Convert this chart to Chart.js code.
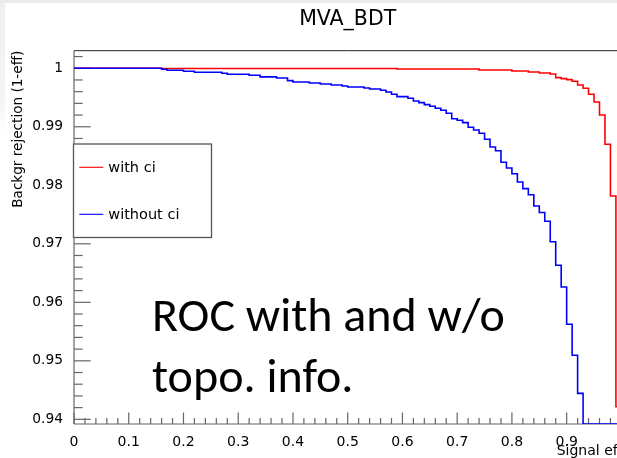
<!DOCTYPE html>
<html>
<head>
<meta charset="utf-8">
<script src="https://cdn.jsdelivr.net/npm/chart.js@4.4.1/dist/chart.umd.min.js"></script>
<style>
  html, body { margin: 0; padding: 0; background: #fff; overflow: hidden; width: 617px; height: 458px; }
  #wrap { position: relative; width: 617px; height: 458px; overflow: hidden; background: #fff; }
  #roc { position: absolute; left: 0; top: 0; }
  .band-top { position: absolute; left: 0; top: 0; width: 617px; height: 3px; background: #ebebeb; }
  .band-left { position: absolute; left: 0; top: 3px; width: 5px; height: 132px;
               background: linear-gradient(#efefef, #f5f5f5 75%, #ffffff); }
  #note { position: absolute; left: 152px; top: 285px; color: #000; white-space: nowrap;
          font-family: Carlito, Lato, "Open Sans", sans-serif; font-size: 48px; line-height: 60.7px; }
</style>
</head>
<body>
<div id="wrap">
  <canvas id="roc" width="680" height="458"></canvas>
  <div class="band-top"></div>
  <div class="band-left"></div>
  <div id="note">ROC with and w/o<br>topo. info.</div>
</div>
<script>
// Signal efficiency at which each step of the ROC histogram starts, and the
// background rejection (1-eff) on that step. The last step runs to eff = 1.
const effWithCi = [0, 0.16, 0.59, 0.74, 0.80, 0.83, 0.85, 0.87, 0.88, 0.89, 0.90,
                   0.91, 0.92, 0.93, 0.94, 0.95, 0.96, 0.97, 0.98, 0.99];
const rejWithCi = [1.0, 0.99995, 0.99988, 0.99971, 0.99954, 0.99937, 0.99920, 0.99903,
                   0.99840, 0.99823, 0.99805, 0.99778, 0.99715, 0.99658, 0.99556,
                   0.99424, 0.99202, 0.98701, 0.97817, 0.94214];

const effWithoutCi = [0, 0.16, 0.17, 0.20, 0.22, 0.27, 0.28, 0.32, 0.34, 0.37, 0.39,
                      0.40, 0.43, 0.45, 0.47, 0.49, 0.50, 0.53, 0.54, 0.56, 0.57,
                      0.58, 0.59, 0.61, 0.62, 0.63, 0.64, 0.65, 0.66, 0.67, 0.68,
                      0.69, 0.70, 0.71, 0.72, 0.73, 0.74, 0.75, 0.76, 0.77, 0.78,
                      0.79, 0.80, 0.81, 0.82, 0.83, 0.84, 0.85, 0.86, 0.87, 0.88,
                      0.89, 0.90, 0.91, 0.92, 0.93];
const rejWithoutCi = [1.0, 0.99982, 0.99965, 0.99948, 0.99931, 0.99914, 0.99897, 0.99880,
                      0.99852, 0.99834, 0.99789, 0.99766, 0.99749, 0.99731, 0.99714,
                      0.99697, 0.99680, 0.99663, 0.99646, 0.99624, 0.99595, 0.99556,
                      0.99515, 0.99487, 0.99441, 0.99412, 0.99378, 0.99350, 0.99316,
                      0.99282, 0.99231, 0.99138, 0.99111, 0.99070, 0.98991, 0.98945,
                      0.98889, 0.98786, 0.98655, 0.98591, 0.98393, 0.98296, 0.98198,
                      0.98056, 0.97942, 0.97839, 0.97646, 0.97535, 0.97385, 0.97036,
                      0.96632, 0.96262, 0.95624, 0.95094, 0.94444, 0.9392];

const seriesNames = ['with ci', 'without ci'];

const xTickValues = [0, 0.1, 0.2, 0.3, 0.4, 0.5, 0.6, 0.7, 0.8, 0.9, 1.0];
const xTickLabels = ['0', '0.1', '0.2', '0.3', '0.4', '0.5', '0.6', '0.7', '0.8', '0.9', '1'];
const yTickValues = [0.94, 0.95, 0.96, 0.97, 0.98, 0.99, 1.0];
const yTickLabels = ['0.94', '0.95', '0.96', '0.97', '0.98', '0.99', '1'];

const X_MIN = 0, X_MAX = 1;
const Y_MIN = 0.9392, Y_MAX = 1.003;
const FONT = "'DejaVu Sans', sans-serif";

// histogram steps -> points for a 'before' stepped line
function stepPoints(edges, values, xEnd) {
  const pts = edges.map((e, i) => ({ x: e, y: values[i] }));
  pts.push({ x: xEnd, y: values[values.length - 1] });
  return pts;
}

// ROOT-style frame: axis lines, inward major/minor ticks, legend box, x title
const rootFrame = {
  id: 'rootFrame',
  beforeDatasetsDraw(chart) {
    const { ctx, chartArea: a, scales: { x, y } } = chart;
    const seg = (x1, y1, x2, y2) => { ctx.beginPath(); ctx.moveTo(x1, y1); ctx.lineTo(x2, y2); ctx.stroke(); };
    ctx.save();
    ctx.strokeStyle = '#222';
    ctx.lineWidth = 1;
    seg(a.left, a.top, a.right, a.top);

    ctx.strokeStyle = '#666';
    ctx.lineWidth = 1.2;
    seg(a.left, a.top, a.left, a.bottom);
    seg(a.left, a.bottom, a.right, a.bottom);

    // y ticks every 0.002, majors every 0.01
    for (let k = Math.ceil(Y_MIN / 0.002 - 1e-6); k <= Math.floor(Y_MAX / 0.002 + 1e-6); k++) {
      const py = y.getPixelForValue(k * 0.002);
      const len = (k % 5 === 0) ? 16.7 : 8.7;
      seg(a.left, py, a.left + len, py);
    }
    // x ticks every 0.02, majors every 0.1
    for (let k = 0; k <= 50; k++) {
      const px = x.getPixelForValue(k * 0.02);
      const len = (k % 5 === 0) ? 11.5 : 6;
      seg(px, a.bottom, px, a.bottom - len);
    }
    ctx.restore();
  },
  afterDatasetsDraw(chart) {
    const { ctx, chartArea: a } = chart;
    ctx.save();
    // legend box
    const bx = 73.5, by = 144, bw = 138, bh = 93.5;
    ctx.fillStyle = '#fff';
    ctx.fillRect(bx, by, bw, bh);
    ctx.strokeStyle = '#555';
    ctx.lineWidth = 1.3;
    ctx.strokeRect(bx, by, bw, bh);
    const rowY = [167.3, 214.3];
    ctx.font = '14.5px ' + FONT;
    ctx.textBaseline = 'middle';
    ctx.textAlign = 'left';
    chart.data.datasets.forEach((ds, i) => {
      ctx.strokeStyle = ds.borderColor;
      ctx.lineWidth = 1.1;
      ctx.beginPath();
      ctx.moveTo(79.3, rowY[i]);
      ctx.lineTo(103.3, rowY[i]);
      ctx.stroke();
      ctx.fillStyle = '#000';
      ctx.fillText(ds.label, 108.3, rowY[i] + 0.5);
    });
    // x axis title
    ctx.font = '14px ' + FONT;
    ctx.textBaseline = 'alphabetic';
    ctx.fillStyle = '#000';
    ctx.fillText('Signal efficiency', 556.7, 455);
    ctx.restore();
  }
};

new Chart(document.getElementById('roc'), {
  type: 'line',
  data: {
    datasets: [
      {
        label: seriesNames[0],
        data: stepPoints(effWithCi, rejWithCi, X_MAX),
        borderColor: '#ff0000',
        borderWidth: 1.6,
        stepped: 'before',
        pointRadius: 0,
        fill: false,
        order: 1
      },
      {
        label: seriesNames[1],
        data: stepPoints(effWithoutCi, rejWithoutCi, X_MAX),
        borderColor: '#0000ff',
        borderWidth: 1.6,
        stepped: 'before',
        pointRadius: 0,
        fill: false,
        order: 0
      }
    ]
  },
  options: {
    responsive: false,
    animation: false,
    events: [],
    layout: { padding: { top: 0, left: 0, right: 58.6, bottom: 0 } },
    plugins: {
      legend: { display: false },
      tooltip: { enabled: false },
      title: {
        display: true,
        text: 'MVA_BDT',
        fullSize: false,
        color: '#000',
        font: { family: FONT, size: 20.5, weight: 'normal', lineHeight: 1.2 },
        padding: { top: 7.3, bottom: 18.8 }
      }
    },
    scales: {
      x: {
        type: 'linear',
        position: 'bottom',
        min: X_MIN,
        max: X_MAX,
        afterBuildTicks: s => { s.ticks = xTickValues.map(v => ({ value: v })); },
        afterFit: s => { s.height = 34; },
        grid: { display: false },
        border: { display: false },
        ticks: {
          color: '#000',
          padding: 2,
          maxRotation: 0,
          autoSkip: false,
          font: { family: FONT, size: 14 },
          callback: (v, i) => xTickLabels[i]
        }
      },
      y: {
        type: 'linear',
        position: 'left',
        min: Y_MIN,
        max: Y_MAX,
        afterBuildTicks: s => { s.ticks = yTickValues.map(v => ({ value: v })); },
        afterFit: s => { s.width = 74; },
        grid: { display: false },
        border: { display: false },
        ticks: {
          color: '#000',
          padding: 3,
          autoSkip: false,
          font: { family: FONT, size: 13.8 },
          callback: (v, i) => yTickLabels[i]
        },
        title: {
          display: true,
          text: 'Backgr rejection (1-eff)',
          align: 'end',
          color: '#000',
          font: { family: FONT, size: 13.6 },
          padding: { top: 10.4, bottom: 0 }
        }
      }
    }
  },
  plugins: [rootFrame]
});
</script>
</body>
</html>
